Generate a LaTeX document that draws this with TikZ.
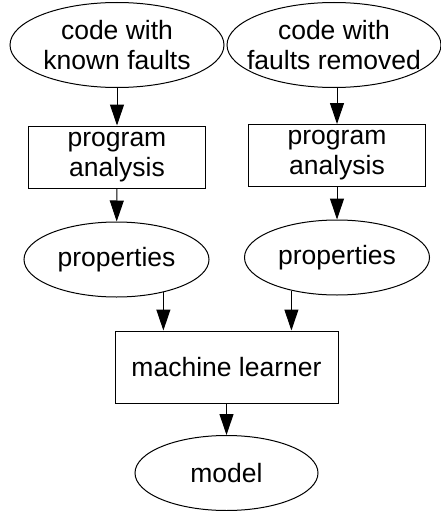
\documentclass[tikz,border=0pt]{standalone}
\usepackage{fontspec}
\setmainfont{Liberation Sans}
\usetikzlibrary{shapes.geometric,arrows.meta,positioning,calc}

\begin{document}
\begin{tikzpicture}[
            x=1pt, y=-1pt,
            font=\fontsize{26.5}{30}\selectfont,
            line width=1pt,
            oval/.style={ellipse, draw, inner sep=0pt, minimum width=185pt, minimum height=75pt},
            bigoval/.style={ellipse, draw, inner sep=0pt, minimum width=214pt, minimum height=85pt,
                            label={[align=center]center:#1}},
            block/.style={rectangle, draw, align=center, minimum width=177pt, minimum height=62pt},
            arrow/.style={-{Triangle[length=21pt,width=14pt]}}
        ]
            \useasboundingbox (0,0) rectangle (441,511);

            % Source code
            \node[bigoval={code with\\known faults}] (src1) at (117,45) {};
            \node[bigoval={code with\\faults removed}] (src2) at (334,45) {};

            % Analysis
            \node[block] (ana1) at (117,157) {program\\analysis};
            \node[block] (ana2) at (337,155.5) {program\\analysis};

            % Properties
            \node[oval] (pr1) at (116.5,259.5) {properties};
            \node[oval] (pr2) at (337,257.5) {properties};

            % Learner and model
            \node[block, minimum width=223pt, minimum height=72pt] (ml) at (226.5,367) {machine learner};
            \node[oval, minimum width=183pt] (mod) at (226.5,473) {model};

            % Connections
            \draw[arrow] (src1) -- (ana1);
            \draw[arrow] (src2.south -| ana2.north) -- (ana2.north);
            \draw[arrow] (ana1) -- (pr1);
            \draw[arrow] (ana2) -- (pr2);
            \draw[arrow] (pr1.-35) -- (pr1.-35 |- ml.north);
            \draw[arrow] (pr2.-144) -- (pr2.-144 |- ml.north);
            \draw[arrow] (ml) -- (mod);
        \end{tikzpicture}
\end{document}
